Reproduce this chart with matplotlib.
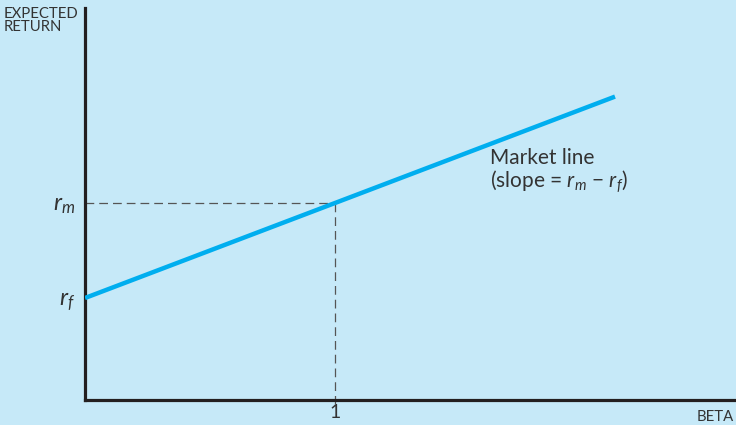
import matplotlib
matplotlib.use("Agg")
import matplotlib.pyplot as plt

# data (arbitrary units: r_f = 1, r_m = 2)
rf = 1.0
rm = 2.0
line_beta = [0.0, 2.12]
line_return = [1.0, 3.12]
beta_ticks = [1]
beta_ticklabels = ["1"]

BG = "#c6e9f8"
BLUE = "#00aeef"
DARK = "#231f20"

plt.rcParams["font.family"] = ["Lato", "DejaVu Sans"]
plt.rcParams["mathtext.fontset"] = "custom"
plt.rcParams["mathtext.rm"] = "Lato"
plt.rcParams["mathtext.it"] = "Lato:italic"

fig = plt.figure(figsize=(7.36, 4.25), dpi=100, facecolor=BG)
ax = fig.add_axes([85 / 736, 25 / 425, 651 / 736, 392 / 425])
ax.set_facecolor(BG)

ax.set_xlim(0, 651 / 250)
ax.set_ylim(1 - 102 / 95, 1 + 290 / 95)

ax.plot(line_beta, line_return, color=BLUE, lw=3.2, solid_capstyle="butt", zorder=3)

# dashed guides at beta = 1
ax.plot([0, 1], [rm, rm], color="#555555", lw=0.9, dashes=(7, 4), zorder=2)
ax.plot([1, 1], [rm, 1 - 107 / 95], color="#555555", lw=0.9, dashes=(7, 4),
        zorder=2, clip_on=False)

for s in ["top", "right"]:
    ax.spines[s].set_visible(False)
for s in ["left", "bottom"]:
    ax.spines[s].set_linewidth(2.3)
    ax.spines[s].set_color(DARK)

ax.set_xticks(beta_ticks)
ax.set_xticklabels(beta_ticklabels, fontsize=14, color="#333333")
ax.tick_params(axis="x", length=0, pad=3)
ax.set_yticks([rf, rm])
ax.set_yticklabels([r"$r_f$", r"$r_m$"], fontsize=17, color="#333333")
ax.tick_params(axis="y", length=0, pad=7)

fig.text(4 / 736, 1 - 7 / 425, "EXPECTED\nRETURN", fontsize=10.7, color="#333333",
         va="top", ha="left", linespacing=0.95)
fig.text(734 / 736, 1 - 424 / 425, "BETA", fontsize=10.7, color="#333333",
         va="bottom", ha="right")

ax.text(1.62, 2.58, "Market line\n(slope = $r_m$ $-$ $r_f$)", fontsize=15,
        color="#333333", va="top", ha="left", linespacing=1.0)

fig.savefig("out.png", dpi=100, facecolor=BG)
plt.close(fig)
